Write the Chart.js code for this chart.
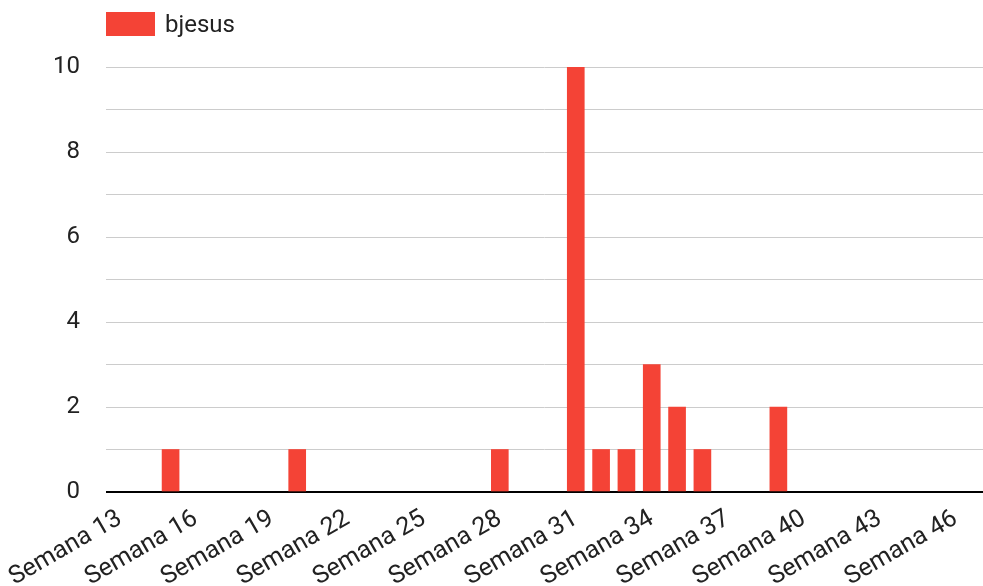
<!DOCTYPE html>
<html lang="es">
<head>
  <meta charset="UTF-8" />
  <title>bjesus por semana</title>
  <script src="https://cdn.jsdelivr.net/npm/chart.js"></script>
  <style>
    body {
      margin: 0;
      background: #fff;
      font-family: Roboto, sans-serif;
    }
    #wrap {
      position: relative;
      width: 983px;
      height: 586px;
    }
    .legend {
      position: absolute;
      left: 106px;
      top: 10px;
      display: flex;
      align-items: center;
      font-size: 24px;
      color: #222;
    }
    .legend .box {
      width: 49px;
      height: 24px;
      background: #f44336;
      margin-right: 10px;
    }
  </style>
</head>
<body>
  <div id="wrap">
    <canvas id="weekChart"></canvas>
    <div class="legend"><span class="box"></span><span id="legendText"></span></div>
  </div>

  <script>
    const seriesName = 'bjesus';
    const weeks = ['Semana 13', 'Semana 14', 'Semana 15', 'Semana 16', 'Semana 17', 'Semana 18',
      'Semana 19', 'Semana 20', 'Semana 21', 'Semana 22', 'Semana 23', 'Semana 24',
      'Semana 25', 'Semana 26', 'Semana 27', 'Semana 28', 'Semana 29', 'Semana 30',
      'Semana 31', 'Semana 32', 'Semana 33', 'Semana 34', 'Semana 35', 'Semana 36',
      'Semana 37', 'Semana 38', 'Semana 39', 'Semana 40', 'Semana 41', 'Semana 42',
      'Semana 43', 'Semana 44', 'Semana 45', 'Semana 46'];
    const counts = [0, 0, 1, 0, 0, 0, 0, 1, 0, 0, 0, 0,
      0, 0, 0, 1, 0, 0, 10, 1, 1, 3, 2, 1,
      0, 0, 2, 0, 0, 0, 0, 0, 0, 0];
    const yTicks = [0, 2, 4, 6, 8, 10];

    document.getElementById('legendText').textContent = seriesName;

    const ctx = document.getElementById('weekChart').getContext('2d');
    const chart = new Chart(ctx, {
      type: 'bar',
      data: {
        datasets: [{
          label: seriesName,
          // empty weeks get no bar at all
          data: counts.map((v, i) => ({ x: i, y: v === 0 ? null : v })),
          backgroundColor: '#f44336',
          barThickness: 17,
          borderWidth: 0
        }]
      },
      options: {
        responsive: true,
        maintainAspectRatio: false,
        animation: false,
        layout: { padding: { top: 67, right: 0, left: 0, bottom: 0 } },
        plugins: {
          legend: { display: false },
          tooltip: { enabled: false }
        },
        scales: {
          x: {
            type: 'linear',
            offset: false,
            min: -0.55,
            max: 34.08,
            grid: { display: false, drawTicks: false, offset: false },
            border: { display: false },
            afterBuildTicks: (scale) => {
              scale.ticks = weeks.map((w, i) => ({ value: i })).filter(t => t.value % 3 === 0);
            },
            afterFit: (scale) => {
              scale.height = 94;
              scale.paddingLeft = 0;
              scale.paddingRight = 0;
            },
            ticks: {
              autoSkip: false,
              minRotation: 30,
              maxRotation: 30,
              padding: 12,
              color: '#222',
              font: { family: 'Roboto', size: 25 },
              callback: (value) => weeks[value]
            }
          },
          y: {
            min: 0,
            max: 10,
            afterFit: (scale) => { scale.width = 106; },
            grid: {
              drawTicks: false,
              color: (c) => c.tick && c.tick.value === 0 ? '#000' : '#cccccc',
              lineWidth: (c) => c.tick && c.tick.value === 0 ? 2 : 1
            },
            border: { display: false },
            ticks: {
              stepSize: 1,
              padding: 26,
              color: '#222',
              font: { family: 'Roboto', size: 24 },
              callback: (value) => yTicks.includes(value) ? value : ''
            }
          }
        }
      }
    });
  </script>
</body>
</html>
